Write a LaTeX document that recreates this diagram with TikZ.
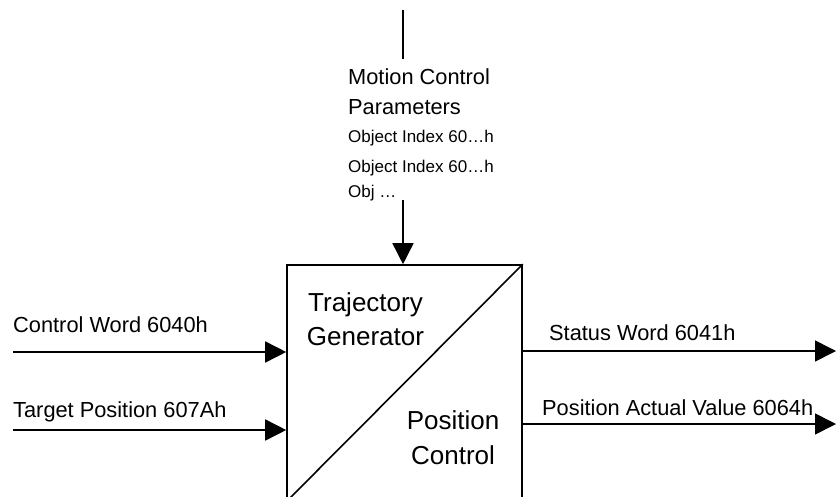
\documentclass[tikz,border=0pt]{standalone}
\usepackage{fontspec}
\setmainfont{Liberation Sans}
\usetikzlibrary{arrows.meta}
\begin{document}
\begin{tikzpicture}[x=1pt,y=-1pt,
  wire/.style={line width=1.6pt},
  sig/.style={wire,-{Triangle[length=21pt,width=21pt]}},
  big/.style={font=\fontsize{21.8}{25}\selectfont, inner sep=0pt},
  huge/.style={font=\fontsize{26}{30}\selectfont, inner sep=0pt},
  small/.style={font=\fontsize{17}{20}\selectfont, inner sep=0pt},
]
\useasboundingbox (0,0) rectangle (837,497);
\clip (0,0) rectangle (837,497);

% central block, split by its diagonal
\node[draw, line width=1.6pt, minimum width=235pt, minimum height=236pt, inner sep=0pt] (blk) at (404.5,383) {};
\draw[wire] (blk.south west) -- (blk.north east);
\node[huge, anchor=base] (traj) at (365.5,311) {Trajectory};
\node[huge, anchor=base] (gen)  at (365.5,345) {Generator};
\node[huge, anchor=base] (pos)  at (453,429) {Position};
\node[huge, anchor=base] (ctl)  at (453,464) {Control};

% parameter feed from above
\coordinate (t0) at (403,10);
\coordinate (t1) at (403,59);
\draw[wire] (t0) -- (t1);
\node[big, anchor=base west]   (mc)  at (348,85)  {Motion Control};
\node[big, anchor=base west]   (par) at (348,115) {Parameters};
\node[small, anchor=base west] (ob1) at (348,143) {Object Index 60…h};
\node[small, anchor=base west] (ob2) at (348,173) {Object Index 60…h};
\node[small, anchor=base west] (ob3) at (348,197) {Obj …};
\coordinate (t2) at (403,200);
\draw[sig] (t2) -- (t2 |- blk.north);

% inputs
\coordinate (in1) at (13,352);
\coordinate (in2) at (13,430);
\draw[sig] (in1) -- (in1 -| blk.west);
\draw[sig] (in2) -- (in2 -| blk.west);
\node[big, anchor=base west] (cw) at (13,332) {Control Word 6040h};
\node[big, anchor=base west] (tp) at (13,417) {Target Position 607Ah};

% outputs
\coordinate (out1) at (836,351);
\coordinate (out2) at (836,424);
\draw[sig] (out1 -| blk.east) -- (out1);
\draw[sig] (out2 -| blk.east) -- (out2);
\node[big, anchor=base west] (sw) at (549,340) {Status Word 6041h};
\node[big, anchor=base west] (pa) at (542,415) {Position Actual Value 6064h};
\end{tikzpicture}
\end{document}
